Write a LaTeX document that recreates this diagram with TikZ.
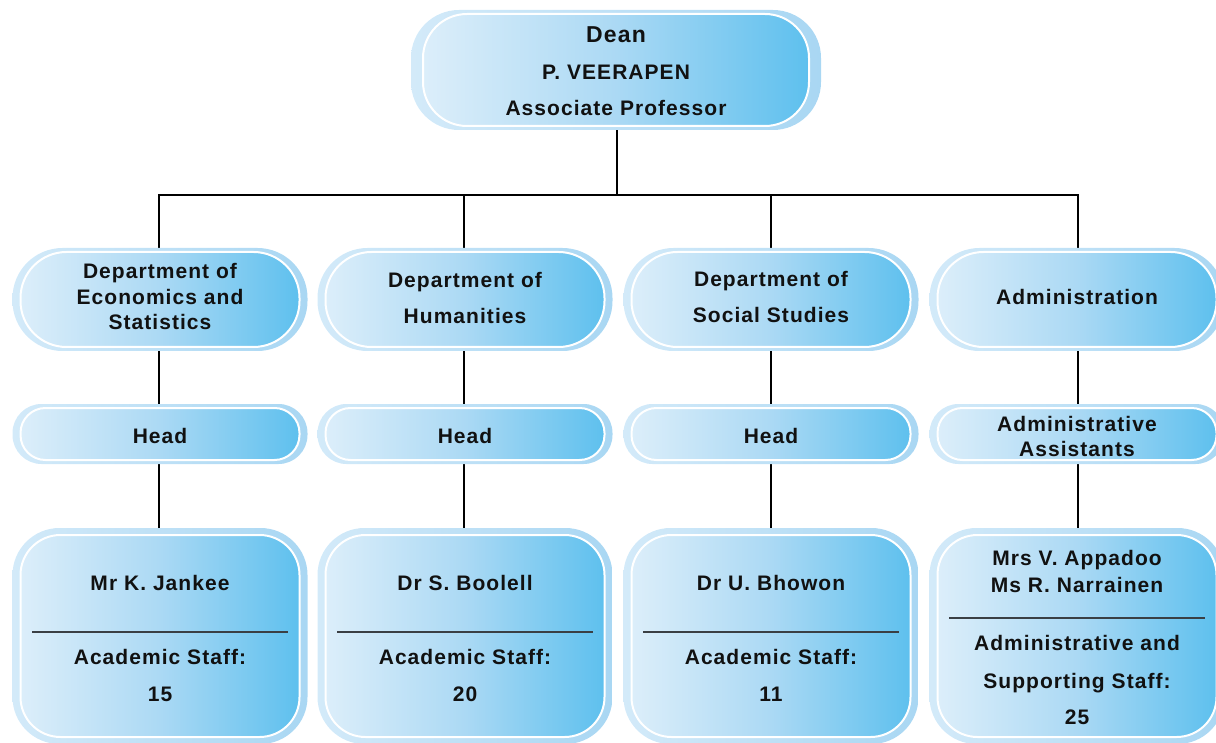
\documentclass[tikz,border=0pt]{standalone}
\usepackage{fontspec}
\newfontfamily\lab{Liberation Sans}[LetterSpace=5]
\pgfdeclarelayer{background}
\pgfsetlayers{background,main}
\definecolor{haloL}{HTML}{D3EAF9}
\definecolor{haloR}{HTML}{A9D7F3}
\definecolor{gradL}{HTML}{DCEEFA}
\definecolor{gradM}{HTML}{ABD9F4}
\definecolor{gradR}{HTML}{5EC0EE}
\definecolor{inktext}{HTML}{111111}
\definecolor{divline}{HTML}{3A3F44}
\tikzset{
  ubx/.style={draw=white, line width=2pt, left color=gradL, right color=gradR, middle color=gradM,
    inner sep=0pt},
  tline/.style={inner sep=0pt, text height=15pt, text depth=0pt, text=inktext,
    font=\lab\bfseries\fontsize{21}{25}\selectfont},
  bigline/.style={tline, text height=16.5pt, font=\lab\bfseries\fontsize{23}{27}\selectfont},
  conn/.style={draw=black, line width=1.1pt},
  divider/.style={draw=divline, line width=1.4pt}
}
% #1 name, #2 cx, #3 cy, #4 w, #5 h, #6 r, #7 halo x, #8 halo y
\newcommand\ubox[8]{%
  \shade[left color=haloL, right color=haloR, rounded corners=#6pt+#8pt]
    (#2-#4/2-#7, #3-#5/2-#8) rectangle (#2+#4/2+#7, #3+#5/2+#8);
  \node[ubx, minimum width=#4pt, minimum height=#5pt, rounded corners=#6pt] (#1) at (#2,#3) {};
}
\newcommand\tl[4]{\node[tline] (#1) at (#2,#3) {#4};}
\begin{document}
\begin{tikzpicture}[x=1pt,y=-1pt]
\useasboundingbox (0,0) rectangle (1216,743);
% boxes
\ubox{dean}{616}{70}{386}{112}{44}{12}{4}
\ubox{d1}{160}{299.5}{279}{95}{46}{8}{4}
\ubox{d2}{465}{299.5}{279}{95}{46}{8}{4}
\ubox{d3}{771}{299.5}{279}{95}{46}{8}{4}
\ubox{d4}{1077}{299.5}{279}{95}{46}{8}{4}
\ubox{h1}{160}{434}{279}{52}{25}{8}{4}
\ubox{h2}{465}{434}{279}{52}{25}{8}{4}
\ubox{h3}{771}{434}{279}{52}{25}{8}{4}
\ubox{h4}{1077}{434}{279}{52}{25}{8}{4}
\ubox{b1}{160}{636}{279}{202}{40}{8}{7}
\ubox{b2}{465}{636}{279}{202}{40}{8}{7}
\ubox{b3}{771}{636}{279}{202}{40}{8}{7}
\ubox{b4}{1077}{636}{279}{202}{40}{8}{7}
% dean texts
\node[bigline] (deanT) at (616,34) {Dean};
\tl{deanN}{616}{72}{P. VEERAPEN}
\tl{deanP}{616}{108}{Associate Professor}
% department texts
\tl{d1a}{160}{271}{Department of}
\tl{d1b}{160}{297}{Economics and}
\tl{d1c}{160}{322}{Statistics}
\tl{d2a}{465}{280}{Department of}
\tl{d2b}{465}{316}{Humanities}
\tl{d3a}{771}{279}{Department of}
\tl{d3b}{771}{315}{Social Studies}
\tl{d4a}{1077}{297}{Administration}
% head texts
\tl{h1t}{160}{436}{Head}
\tl{h2t}{465}{436}{Head}
\tl{h3t}{771}{436}{Head}
\tl{h4a}{1077}{424}{Administrative}
\tl{h4b}{1077}{449}{Assistants}
% bottom texts
\tl{b1n}{160}{583}{Mr K. Jankee}
\tl{b1a}{160}{657}{Academic Staff:}
\tl{b1c}{160}{694}{15}
\tl{b2n}{465}{583}{Dr S. Boolell}
\tl{b2a}{465}{657}{Academic Staff:}
\tl{b2c}{465}{694}{20}
\tl{b3n}{771}{583}{Dr U. Bhowon}
\tl{b3a}{771}{657}{Academic Staff:}
\tl{b3c}{771}{694}{11}
\tl{b4n}{1077}{558}{Mrs V. Appadoo}
\tl{b4m}{1077}{585}{Ms R. Narrainen}
\tl{b4a}{1077}{643}{Administrative and}
\tl{b4s}{1077}{681}{Supporting Staff:}
\tl{b4c}{1077}{717}{25}
% dividers
\draw[divider] ([xshift=-128pt]b1.center |- 0,632) -- ([xshift=128pt]b1.center |- 0,632);
\draw[divider] ([xshift=-128pt]b2.center |- 0,632) -- ([xshift=128pt]b2.center |- 0,632);
\draw[divider] ([xshift=-128pt]b3.center |- 0,632) -- ([xshift=128pt]b3.center |- 0,632);
\draw[divider] ([xshift=-128pt]b4.center |- 0,618) -- ([xshift=128pt]b4.center |- 0,618);
% connectors
\coordinate (bus) at (617,195);
\begin{pgfonlayer}{background}
\draw[conn] ([xshift=1pt]dean.south) -- ([xshift=1pt]dean.south |- bus);
\draw[conn] ([xshift=-1pt]d1.north) -- ([xshift=-1pt]d1.north |- bus) -- ([xshift=1pt]d4.north |- bus) -- ([xshift=1pt]d4.north);
\draw[conn] ([xshift=-1pt]d2.north) -- ([xshift=-1pt]d2.north |- bus);
\draw[conn] (d3.north) -- (d3.north |- bus);
\draw[conn] ([xshift=-1pt]d1.south) -- ([xshift=-1pt]h1.north);
\draw[conn] ([xshift=-1pt]d2.south) -- ([xshift=-1pt]h2.north);
\draw[conn] (d3.south) -- (h3.north);
\draw[conn] ([xshift=1pt]d4.south) -- ([xshift=1pt]h4.north);
\draw[conn] ([xshift=-1pt]h1.south) -- ([xshift=-1pt]b1.north);
\draw[conn] ([xshift=-1pt]h2.south) -- ([xshift=-1pt]b2.north);
\draw[conn] (h3.south) -- (b3.north);
\draw[conn] ([xshift=1pt]h4.south) -- ([xshift=1pt]b4.north);
\end{pgfonlayer}
\end{tikzpicture}
\end{document}
